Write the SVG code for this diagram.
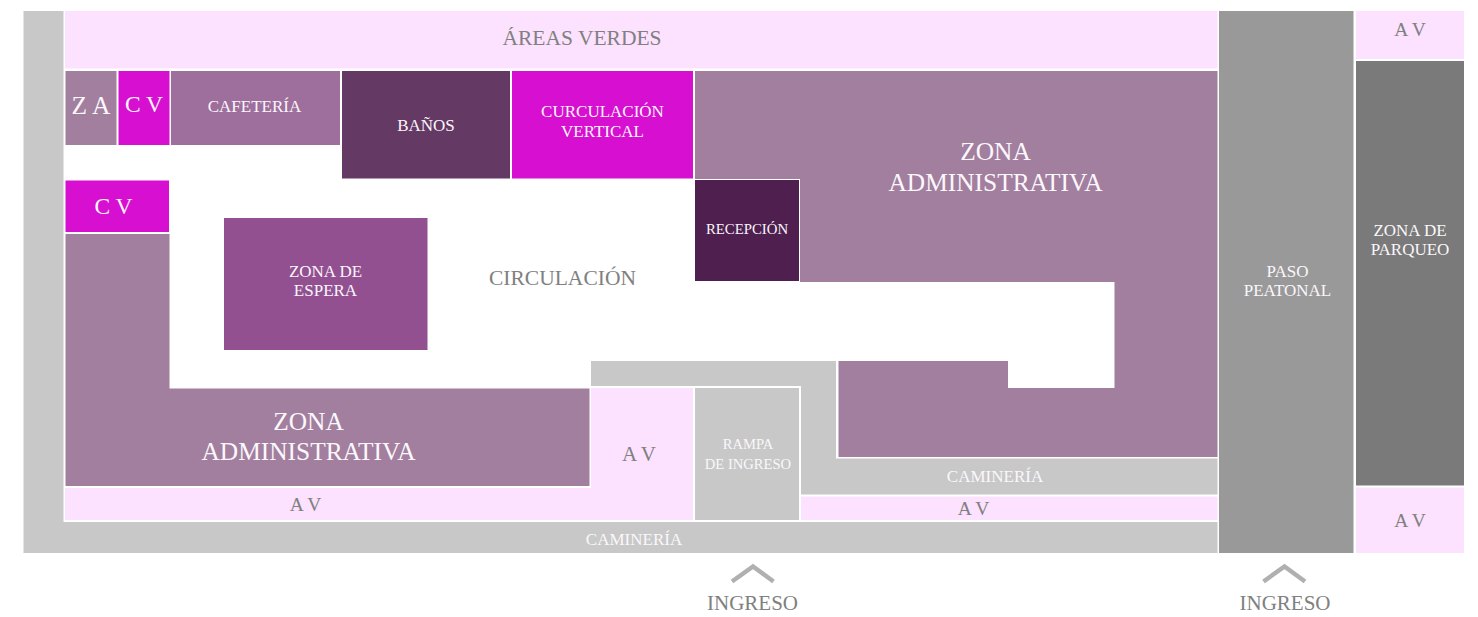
<svg xmlns="http://www.w3.org/2000/svg" width="1478" height="617" viewBox="0 0 1478 617">
<style>
text{font-family:"Liberation Serif","Times New Roman",serif;text-anchor:middle}
.w{fill:#fbf7fb}.g{fill:#808080}
.s16{font-size:17px}.s20{font-size:19.500px}.s21{font-size:21.500px}.s23{font-size:23.500px}.s25{font-size:25.400px}
.admin{fill:#a27f9f}.av{fill:#fce2ff}.cv{fill:#d60fd0}.gray{fill:#c8c8c8}
</style>
<rect width="1478" height="617" fill="#fff"/>
<g id="caminerias">
<path id="camineria-exterior" class="gray" d="M23.500 11H63.500V522H1217.500V553H23.500Z"/>
<path id="camineria-interior" class="gray" d="M591 361H836V458.500H1217.500V494.500H801V386H591Z"/>
<text class="w s16" x="634" y="545">CAMINERÍA</text>
<text class="w s16" x="995" y="482">CAMINERÍA</text>
</g>
<g id="areas-verdes"><rect class="av" x="65" y="11" width="1152.500" height="57.500"/><text class="s21" fill="#808080" x="582" y="44.500">ÁREAS VERDES</text></g>
<g id="za"><rect class="admin" x="65.500" y="71" width="51" height="74"/><text class="w s25" x="91" y="113.500">Z A</text></g>
<g id="cv1"><rect class="cv" x="118.500" y="71" width="51" height="74"/><text class="w s23" x="144" y="111.500">C V</text></g>
<g id="cafeteria"><rect x="171" y="71" width="169" height="74" fill="#9e6f9c"/><text class="w s16" x="254.500" y="112">CAFETERÍA</text></g>
<g id="banos"><rect x="342" y="71" width="168" height="107.500" fill="#643964"/><text class="w s16" x="426" y="131">BAÑOS</text></g>
<g id="circulacion-vertical"><rect class="cv" x="512" y="71" width="181" height="107.500"/><text class="w s16"><tspan x="602.500" y="117">CURCULACIÓN</tspan><tspan x="602.500" y="137">VERTICAL</tspan></text></g>
<g id="zona-admin-1"><path class="admin" d="M695 71H1217.500V457H838.500V361H1008V388H1114.500V282H800V179H695Z"/><text class="w s25"><tspan x="995.500" y="160">ZONA</tspan><tspan x="995.500" y="191">ADMINISTRATIVA</tspan></text></g>
<g id="recepcion"><rect x="695" y="180" width="104" height="101" fill="#4e1f4f"/><text class="w" font-size="14.800" x="747" y="234">RECEPCIÓN</text></g>
<g id="cv2"><rect class="cv" x="65.500" y="180.500" width="103.500" height="51.500"/><text class="w s23" x="113.500" y="213.500">C V</text></g>
<g id="zona-admin-2"><path class="admin" d="M65.500 234H169.500V388.500H589.500V486H65.500Z"/><text class="w s25"><tspan x="308.500" y="430">ZONA</tspan><tspan x="308.500" y="460">ADMINISTRATIVA</tspan></text></g>
<g id="zona-espera"><rect x="224" y="218" width="203.500" height="132" fill="#925091"/><text class="w s16"><tspan x="325.500" y="277">ZONA DE</tspan><tspan x="325.500" y="296">ESPERA</tspan></text></g>
<g id="circulacion"><text class="g s21" x="562.500" y="285">CIRCULACIÓN</text></g>
<g id="av-centro"><path class="av" d="M65 488H591V388H693V520H65Z"/><text class="g" font-size="21" x="639" y="461">A V</text><text class="g s20" x="305.500" y="511">A V</text></g>
<g id="rampa"><rect class="gray" x="695" y="388" width="104" height="132"/><text class="w" font-size="14.600"><tspan x="748" y="449">RAMPA</tspan><tspan x="748" y="469">DE INGRESO</tspan></text></g>
<g id="av-derecha"><rect class="av" x="801" y="496.500" width="416.500" height="23.500"/><text class="g s20" x="973.500" y="515">A V</text></g>
<g id="paso-peatonal"><rect x="1219" y="11" width="134.500" height="542" fill="#999"/><text class="w s16"><tspan x="1287.500" y="277">PASO</tspan><tspan x="1287.500" y="296">PEATONAL</tspan></text></g>
<g id="av-sup"><rect class="av" x="1356" y="11" width="108" height="48"/><text class="g s20" x="1410" y="36">A V</text></g>
<g id="parqueo"><rect x="1356" y="61" width="108" height="424.500" fill="#7a7a7a"/><text class="w s16"><tspan x="1410" y="236">ZONA DE</tspan><tspan x="1410" y="255">PARQUEO</tspan></text></g>
<g id="av-inf"><rect class="av" x="1356" y="487.500" width="108" height="65.500"/><text class="g s20" x="1410" y="527">A V</text></g>
<g id="connectors" fill="none" stroke="#b0b0b0" stroke-width="4.500">
<path d="M732 581.500L753 566.500L773.500 581.500"/>
<path d="M1263.500 581.500L1284.500 566.500L1305 581.500"/>
</g>
<g id="ingreso-labels"><text class="g" font-size="21" x="752.500" y="610">INGRESO</text><text class="g" font-size="21" x="1285" y="610">INGRESO</text></g>
</svg>
